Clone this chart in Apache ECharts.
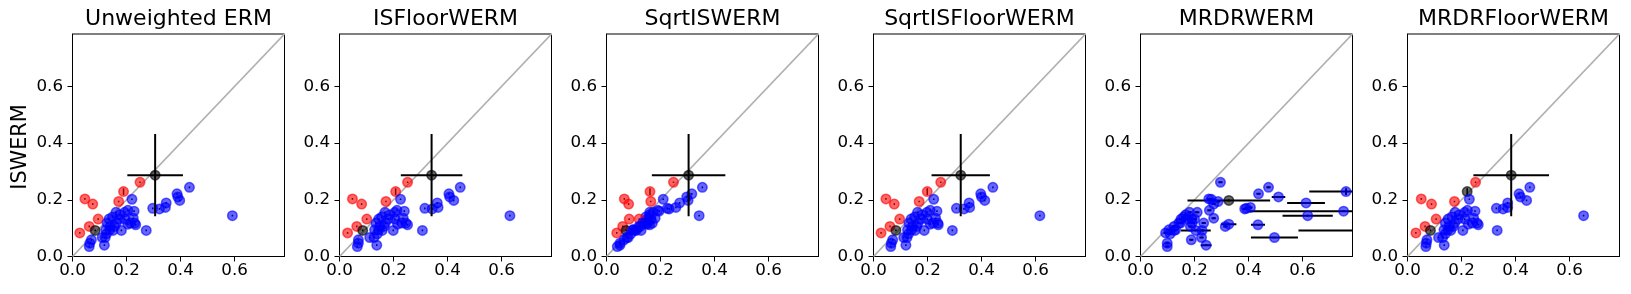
<!DOCTYPE html>
<html><head><meta charset="utf-8">
<script src="https://cdn.jsdelivr.net/npm/echarts@6/dist/echarts.min.js"></script>
<style>html,body{margin:0;padding:0;background:#fff}#c{width:1631px;height:294px}</style>
</head><body><div id="c"></div>
<script>
const methods = ['Unweighted ERM','ISFloorWERM','SqrtISWERM','SqrtISFloorWERM','MRDRWERM','MRDRFloorWERM'];
const tickVals = [0, 0.2, 0.4, 0.6];
const axisMax = 0.785;
// ISWERM values (y, shared by every panel)
const iswerm = [0.083,0.203,0.185,0.106,0.132,0.194,0.229,0.262,0.092,
  0.202,0.244,0.221,0.210,0.198,0.189,0.173,0.168,0.170,0.144,
  0.092,0.160,0.163,0.156,0.147,0.156,0.135,0.118,0.112,0.118,
  0.132,0.133,0.139,0.132,0.118,0.106,0.106,0.092,0.092,0.094,
  0.094,0.067,0.080,0.067,0.040,0.059,0.047,0.035,0.118,0.114];
const iswermErr = [0.003,0.003,0.003,0.003,0.003,0.003,0.012,0.003,0.003,
  0.003,0.003,0.003,0.003,0.003,0.003,0.003,0.003,0.003,0.003,
  0.003,0.003,0.003,0.003,0.003,0.003,0.003,0.003,0.003,0.003,
  0.003,0.003,0.003,0.003,0.003,0.003,0.003,0.003,0.003,0.003,
  0.003,0.003,0.003,0.003,0.003,0.003,0.003,0.003,0.003,0.003];
const xUnweighted = [0.027,0.046,0.075,0.062,0.095,0.171,0.189,0.250,0.084,
  0.220,0.433,0.387,0.390,0.397,0.347,0.344,0.322,0.297,0.592,
  0.273,0.228,0.205,0.193,0.176,0.161,0.225,0.230,0.234,0.214,
  0.194,0.172,0.148,0.135,0.128,0.140,0.156,0.181,0.150,0.138,
  0.123,0.121,0.126,0.110,0.118,0.070,0.064,0.062,0.162,0.205];
const xISFloor = [0.030,0.048,0.082,0.064,0.101,0.172,0.208,0.252,0.086,
  0.226,0.447,0.405,0.408,0.423,0.362,0.365,0.343,0.316,0.631,
  0.307,0.240,0.213,0.205,0.186,0.168,0.236,0.246,0.252,0.230,
  0.205,0.181,0.156,0.145,0.135,0.150,0.165,0.199,0.158,0.145,
  0.130,0.128,0.140,0.112,0.138,0.070,0.070,0.066,0.170,0.215];
const xSqrtIS = [0.038,0.066,0.082,0.060,0.084,0.164,0.161,0.248,0.073,
  0.210,0.355,0.316,0.297,0.302,0.271,0.257,0.232,0.225,0.343,
  0.128,0.195,0.190,0.172,0.160,0.160,0.180,0.170,0.160,0.152,
  0.165,0.152,0.145,0.121,0.134,0.120,0.125,0.110,0.105,0.100,
  0.097,0.080,0.090,0.075,0.050,0.065,0.050,0.040,0.140,0.150];
const xSqrtISFloor = [0.028,0.046,0.077,0.061,0.097,0.169,0.199,0.249,0.083,
  0.223,0.442,0.397,0.400,0.412,0.354,0.356,0.335,0.307,0.616,
  0.292,0.235,0.210,0.198,0.180,0.163,0.230,0.238,0.240,0.220,
  0.199,0.176,0.152,0.139,0.131,0.144,0.160,0.188,0.154,0.141,
  0.126,0.124,0.130,0.112,0.120,0.071,0.066,0.064,0.165,0.210];
const xMRDR = [0.093,0.253,0.271,0.124,0.177,0.287,0.761,0.296,0.228,
  0.262,0.474,0.437,0.511,0.327,0.613,0.407,0.386,0.392,0.619,
  0.860,0.752,0.255,0.210,0.167,0.182,0.271,0.234,0.435,0.191,
  0.200,0.190,0.160,0.150,0.142,0.185,0.314,0.205,0.124,0.105,
  0.130,0.496,0.110,0.226,0.243,0.188,0.099,0.099,0.148,0.327];
const xErrMRDR = [0.008,0.008,0.008,0.008,0.008,0.008,0.136,0.008,0.008,
  0.008,0.008,0.008,0.025,0.153,0.070,0.008,0.008,0.008,0.093,
  0.275,0.347,0.008,0.008,0.008,0.008,0.008,0.008,0.026,0.008,
  0.008,0.008,0.008,0.008,0.008,0.008,0.008,0.055,0.008,0.008,
  0.008,0.087,0.008,0.008,0.020,0.008,0.008,0.008,0.008,0.028];
const xMRDRFloor = [0.031,0.051,0.089,0.065,0.106,0.174,0.221,0.252,0.085,
  0.229,0.453,0.413,0.418,0.441,0.371,0.371,0.354,0.329,0.652,
  0.332,0.250,0.222,0.212,0.192,0.176,0.245,0.258,0.262,0.240,
  0.212,0.188,0.165,0.150,0.140,0.155,0.170,0.205,0.160,0.150,
  0.135,0.130,0.140,0.115,0.136,0.072,0.070,0.068,0.175,0.225];
const xByPanel = [xUnweighted, xISFloor, xSqrtIS, xSqrtISFloor, xMRDR, xMRDRFloor];
const xErrByPanel = [null, null, null, null, xErrMRDR, null];
// indices of non-significant (tie) points per panel
const tiesByPanel = [[8],[8],[8],[8],[13],[6,8]];
// overall mean point with its error bars
const summaryX = [0.306,0.341,0.304,0.323,null,0.384];
const summaryXErr = [0.103,0.114,0.136,0.108,null,0.140];
const summaryY = 0.287;
const summaryYErr = 0.145;

const FONT = 'DejaVu Sans';
const L0 = 72.5, STEP = 267, W = 212, TOP = 34, H = 222.5;
const grids = [], xAxes = [], yAxes = [], series = [], titles = [];

function errRender(lw) {
  return function (params, api) {
    const x = api.value(0), y = api.value(1), xe = api.value(2), ye = api.value(3);
    const ch = [];
    if (xe > 0) {
      const a = api.coord([x - xe, y]), b = api.coord([x + xe, y]);
      ch.push({type:'line', shape:{x1:a[0],y1:a[1],x2:b[0],y2:b[1]}, style:{stroke:'#000', lineWidth:lw}});
    }
    if (ye > 0) {
      const a = api.coord([x, y - ye]), b = api.coord([x, y + ye]);
      ch.push({type:'line', shape:{x1:a[0],y1:a[1],x2:b[0],y2:b[1]}, style:{stroke:'#000', lineWidth:lw}});
    }
    return {type:'group', children: ch};
  };
}

methods.forEach((m, i) => {
  const left = L0 + STEP * i;
  grids.push({left: left, top: TOP, width: W, height: H, show: true, borderColor: '#000', borderWidth: 1, backgroundColor: 'transparent'});
  const axisCommon = {
    type: 'value', gridIndex: i, min: 0, max: axisMax,
    axisLine: {show: true, lineStyle: {color: '#000', width: 1}},
    axisTick: {show: true, inside: false, length: 5, customValues: tickVals, lineStyle: {color: '#000', width: 1}},
    splitLine: {show: false},
  };
  xAxes.push(Object.assign({}, axisCommon, {
    axisLabel: {customValues: tickVals, formatter: v => v.toFixed(1), fontSize: 16.7, fontFamily: FONT, color: '#000', margin: 6}
  }));
  yAxes.push(Object.assign({}, axisCommon, {
    axisLabel: {customValues: tickVals, formatter: v => v.toFixed(1), fontSize: 16.7, fontFamily: FONT, color: '#000', margin: 9.5}
  }));
  titles.push({text: m, left: left + W / 2, top: 8, textAlign: 'center', padding: 0,
    textStyle: {fontSize: 22, fontWeight: 'normal', fontFamily: FONT, color: '#000'}});

  const xs = xByPanel[i], xe = xErrByPanel[i], ties = tiesByPanel[i];
  // diagonal y = x
  series.push({type: 'line', xAxisIndex: i, yAxisIndex: i, data: [[0, 0], [axisMax, axisMax]],
    showSymbol: false, silent: true, clip: true, z: 1,
    lineStyle: {color: '#b0b0b0', width: 1.8}});
  const errData = iswerm.map((y, k) => [xs[k], y, xe ? xe[k] : 0, iswermErr[k]]);
  series.push({type: 'custom', xAxisIndex: i, yAxisIndex: i, clip: true, z: 2,
    renderItem: errRender(xe ? 2 : 1.5), data: errData});
  const pts = iswerm.map((y, k) => {
    const tie = ties.indexOf(k) >= 0;
    const col = tie ? '#000' : (y > xs[k] ? '#ff0000' : '#0000ff');
    return {value: [xs[k], y], itemStyle: {color: col, borderColor: col}};
  });
  series.push({type: 'scatter', xAxisIndex: i, yAxisIndex: i, clip: true, z: 3,
    symbol: 'circle', symbolSize: 9.5, data: pts,
    itemStyle: {opacity: 0.6, borderWidth: 1.5}});
  if (summaryX[i] !== null) {
    series.push({type: 'custom', xAxisIndex: i, yAxisIndex: i, clip: true, z: 4,
      renderItem: errRender(2), data: [[summaryX[i], summaryY, summaryXErr[i], summaryYErr]]});
    series.push({type: 'scatter', xAxisIndex: i, yAxisIndex: i, clip: true, z: 5,
      symbol: 'circle', symbolSize: 9.5, data: [[summaryX[i], summaryY]],
      itemStyle: {color: '#000', borderColor: '#000', opacity: 0.6, borderWidth: 1.5}});
  }
});

const chart = echarts.init(document.getElementById('c'), null, {renderer: 'canvas'});
chart.setOption({
  animation: false,
  backgroundColor: '#fff',
  title: titles,
  grid: grids,
  xAxis: xAxes,
  yAxis: yAxes,
  series: series,
  graphic: [{type: 'text', x: 20.5, y: 147, rotation: Math.PI / 2,
    style: {text: 'ISWERM', fontSize: 20.8, fontFamily: FONT, fill: '#000', align: 'center', verticalAlign: 'middle'}}]
});
</script></body></html>
